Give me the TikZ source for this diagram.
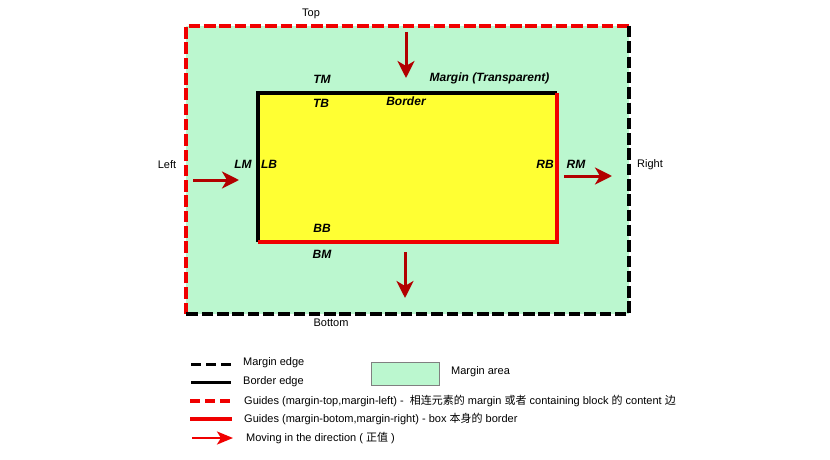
\documentclass[tikz,border=0pt]{standalone}
\usepackage{fontspec}
\setmainfont{Liberation Sans}
\newfontfamily\cjk{Noto Sans CJK SC}
\usetikzlibrary{arrows.meta}
\definecolor{marginfill}{RGB}{187,247,207}
\definecolor{borderfill}{RGB}{255,255,51}
\definecolor{arrowred}{RGB}{178,0,0}
\definecolor{guidered}{RGB}{240,0,0}
\begin{document}
\begin{tikzpicture}[x=1pt,y=-1pt,
  lbl/.style={font=\fontsize{11}{13}\selectfont},
  boxlbl/.style={font=\fontsize{12}{14}\selectfont\bfseries\itshape},
  edgedash/.style={line width=3.5pt,dash pattern=on 11.5pt off 3.8pt},
  move/.style={arrowred,line width=3pt,-{Stealth[length=17pt,width=17pt,inset=5pt]}},
  legend/.style={lbl,anchor=west,inner sep=0pt}]
\useasboundingbox (0,0) rectangle (830,460);
% margin box
\fill[marginfill] (186,26) rectangle (629,314);
\draw[edgedash, guidered] (186,314) -- (186,26) -- (629,26);
\draw[edgedash, black] (629,26) -- (629,314) -- (186,314);
% border box
\fill[borderfill] (258,93) rectangle (557,242);
\draw[line width=3.5pt] (258,242) -- (258,93) -- (557,93);
\draw[line width=3.5pt, guidered] (557,93) -- (557,242) -- (258,242);
% side names
\node[lbl] (top) at (311,14) {Top};
\node[lbl] (bottom) at (331,323) {Bottom};
\node[lbl] (left) at (167,165) {Left};
\node[lbl] (right) at (650,165) {Right};
% box labels
\node[boxlbl] (tm) at (322,79) {TM};
\node[boxlbl] (mtrans) at (489.5,78) {Margin (Transparent)};
\node[boxlbl] (tb) at (321,103) {TB};
\node[boxlbl] (bordertxt) at (406,101) {Border};
\node[boxlbl] (lm) at (243,164) {LM};
\node[boxlbl] (lb) at (269,164) {LB};
\node[boxlbl] (rb) at (545,164) {RB};
\node[boxlbl] (rm) at (576,164) {RM};
\node[boxlbl] (bb) at (322,228) {BB};
\node[boxlbl] (bm) at (322,254) {BM};
% moving arrows
\coordinate (topS) at (406,32);
\coordinate (topE) at (406,78);
\coordinate (botS) at (405,252);
\coordinate (botE) at (405,298);
\coordinate (leftS) at (193,180);
\coordinate (leftE) at (239,180);
\coordinate (rightS) at (564,176);
\coordinate (rightE) at (612,176);
\draw[move] (topS) -- (topE);
\draw[move] (botS) -- (botE);
\draw[move] (leftS) -- (leftE);
\draw[move] (rightS) -- (rightE);
% legend
\coordinate (k1a) at (191,364); \coordinate (k1b) at (231,364);
\coordinate (k2a) at (191,382); \coordinate (k2b) at (231,382);
\coordinate (k3a) at (190,401); \coordinate (k3b) at (232,401);
\coordinate (k4a) at (190,419); \coordinate (k4b) at (232,419);
\coordinate (k5a) at (192,438); \coordinate (k5b) at (233,438);
\draw[line width=3pt, dash pattern=on 10pt off 5pt] (k1a) -- (k1b);
\draw[line width=3pt] (k2a) -- (k2b);
\draw[guidered, line width=3.5pt, dash pattern=on 10pt off 5pt] (k3a) -- (k3b);
\draw[line width=3.5pt, guidered] (k4a) -- (k4b);
\draw[guidered, line width=2.5pt, -{Stealth[length=16pt,width=13pt,inset=4pt]}] (k5a) -- (k5b);
\node[legend] (k1) at (243,363) {Margin edge};
\node[legend] (k2) at (243,382) {Border edge};
\node[legend] (k3) at (244,401) {Guides (margin-top,margin-left) -\ \ {\cjk 相连元素的} margin {\cjk 或者} containing block {\cjk 的} content {\cjk 边}};
\node[legend] (k4) at (244,419) {Guides (margin-botom,margin-right) - box {\cjk 本身的} border};
\node[legend] (k5) at (246,438) {Moving in the direction ( {\cjk 正值} )};
\node[draw=gray, fill=marginfill, minimum width=68pt, minimum height=23pt, inner sep=0pt] (area) at (405,373.5) {};
\node[legend] (areatxt) at (451,372) {Margin area};
\end{tikzpicture}
\end{document}
